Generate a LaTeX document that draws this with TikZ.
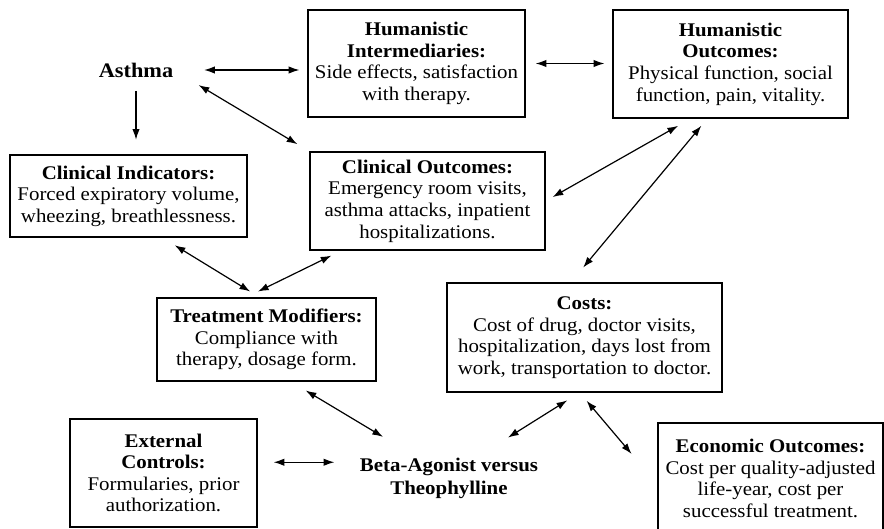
\documentclass[tikz,border=0pt]{standalone}
\usepackage{fontspec}
\setmainfont{Liberation Serif}[FakeStretch=1.08]
\usetikzlibrary{arrows.meta}

\begin{document}
\begin{tikzpicture}[x=0.75pt, y=-0.75pt,
    every node/.style={font=\fontsize{14.5}{16.2}\selectfont},
    bx/.style={draw, line width=0.9pt, align=center, inner sep=2pt},
    lb/.style={align=center, inner sep=0pt, font=\fontsize{14.5}{17.3}\selectfont\bfseries},
    a/.style={-{Latex[length=8pt, width=5.5pt]}, line width=0.9pt},
    ab/.style={{Latex[length=8pt, width=5.5pt]}-{Latex[length=8pt, width=5.5pt]}, line width=0.9pt}
]
\useasboundingbox (0,0) rectangle (884,528);

\node[lb, font=\fontsize{15.5}{17}\selectfont\bfseries] (asthma) at (136,70) {Asthma};
\node[bx, minimum width=162.75pt, minimum height=80.25pt] (hi) at (416.5,63.5)
  {\textbf{Humanistic}\\\textbf{Intermediaries:}\\Side effects, satisfaction\\with therapy.};
\node[bx, minimum width=176.25pt, minimum height=81pt] (ho) at (730.5,64)
  {\textbf{Humanistic}\\\textbf{Outcomes:}\\Physical function, social\\function, pain, vitality.};
\node[bx, minimum width=177.75pt, minimum height=61.5pt] (ci) at (128.5,196)
  {\textbf{Clinical Indicators:}\\Forced expiratory volume,\\wheezing, breathlessness.};
\node[bx, minimum width=176.25pt, minimum height=73.5pt] (co) at (427.5,201)
  {\textbf{Clinical Outcomes:}\\Emergency room visits,\\asthma attacks, inpatient\\hospitalizations.};
\node[bx, minimum width=164.25pt, minimum height=62.25pt] (tm) at (266.5,339.5)
  {\textbf{Treatment Modifiers:}\\Compliance with\\therapy, dosage form.};
\node[bx, minimum width=206.25pt, minimum height=81.75pt] (costs) at (584.5,337.5)
  {\textbf{Costs:}\\Cost of drug, doctor visits,\\hospitalization, days lost from\\work, transportation to doctor.};
\node[bx, minimum width=140.25pt, minimum height=81pt] (ext) at (163.5,473)
  {\textbf{External}\\\textbf{Controls:}\\Formularies, prior\\authorization.};
\node[lb] (beta) at (449,478) {Beta-Agonist versus\\Theophylline};
\node[bx, minimum width=168.75pt, minimum height=83.25pt] (eco) at (770.5,478.5)
  {\textbf{Economic Outcomes:}\\Cost per quality-adjusted\\life-year, cost per\\successful treatment.};

% asthma links
\draw[ab, shorten <=23pt, shorten >=6pt] (asthma.east) -- (asthma.east -| hi.west);
\draw[ab, shorten <=22pt, shorten >=10.5pt] (asthma.east) -- (co.north west);
\draw[a, shorten <=10pt, shorten >=11pt] (asthma.south) -- (asthma.south |- ci.north);

% outcomes
\draw[ab, shorten <=7.5pt, shorten >=6pt] (hi.east) -- (hi.east -| ho.west);
\draw[ab, shorten <=6pt, shorten >=11pt] (co.east) -- (ho.-126);
\draw[ab, shorten <=14.5pt, shorten >=7pt] (costs.104) -- (ho.-113);

% modifiers
\draw[ab, shorten <=11pt, shorten >=8.5pt] (ci.-51) -- (tm.99);
\draw[ab, shorten <=8.5pt, shorten >=10pt] (co.-150) -- (tm.116);
\draw[ab, shorten <=13pt, shorten >=30pt] (tm.-60) -- (beta.147);

% bottom row
\draw[ab, shorten <=12pt, shorten >=19pt] (ext.east |- beta.170) -- (beta.170);
\draw[ab, shorten <=28pt, shorten >=11pt] (beta.37) -- (costs.-95);
\draw[ab, shorten <=8pt, shorten >=30pt] (costs.-95) -- (eco.183);
\end{tikzpicture}
\end{document}
